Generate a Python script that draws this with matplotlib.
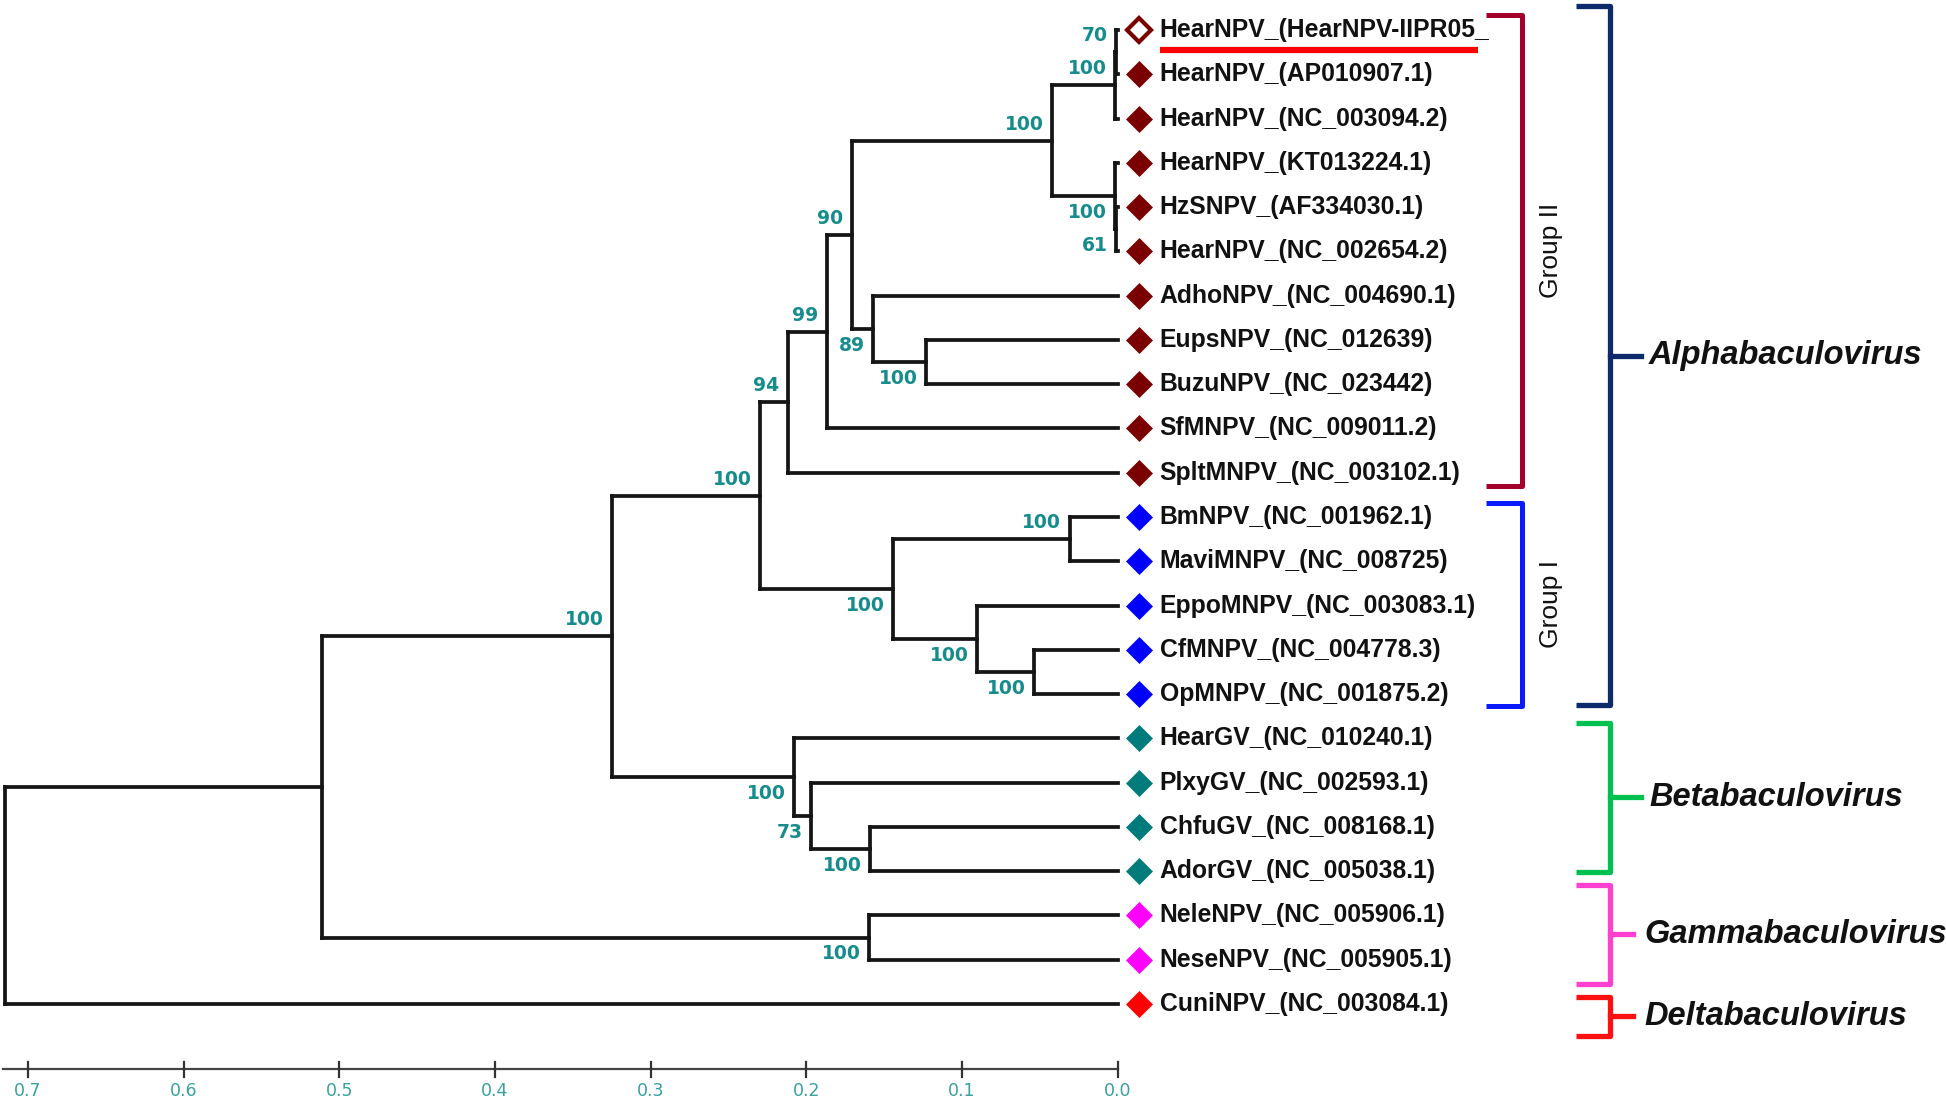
"""Baculovirus phylogeny (MEGA-style UPGMA tree) with bootstrap values and genus brackets."""

import matplotlib

matplotlib.use("Agg")
import matplotlib.pyplot as plt
from matplotlib.collections import LineCollection
from matplotlib.transforms import ScaledTranslation

# leaves, top to bottom
leaf_names = [
    "HearNPV_(HearNPV-IIPR05_",
    "HearNPV_(AP010907.1)",
    "HearNPV_(NC_003094.2)",
    "HearNPV_(KT013224.1)",
    "HzSNPV_(AF334030.1)",
    "HearNPV_(NC_002654.2)",
    "AdhoNPV_(NC_004690.1)",
    "EupsNPV_(NC_012639)",
    "BuzuNPV_(NC_023442)",
    "SfMNPV_(NC_009011.2)",
    "SpltMNPV_(NC_003102.1)",
    "BmNPV_(NC_001962.1)",
    "MaviMNPV_(NC_008725)",
    "EppoMNPV_(NC_003083.1)",
    "CfMNPV_(NC_004778.3)",
    "OpMNPV_(NC_001875.2)",
    "HearGV_(NC_010240.1)",
    "PlxyGV_(NC_002593.1)",
    "ChfuGV_(NC_008168.1)",
    "AdorGV_(NC_005038.1)",
    "NeleNPV_(NC_005906.1)",
    "NeseNPV_(NC_005905.1)",
    "CuniNPV_(NC_003084.1)",
]
leaf_groups = ["II"] * 11 + ["I"] * 5 + ["beta"] * 4 + ["gamma"] * 2 + ["delta"]
query_leaf = 0

# internal nodes: children (int = leaf index), height (distance from tips), bootstrap
node_ids = ["ipr", "hear1", "hzs", "hear2", "hear", "eups", "adho", "n90", "n99", "grp2",
            "bm", "cf", "eppo", "grp1", "alpha", "chfu", "plxy", "beta", "ab", "gamma",
            "abg", "root"]
node_children = [(0, 1), ("ipr", 2), (4, 5), (3, "hzs"), ("hear1", "hear2"), (7, 8),
                 (6, "eups"), ("hear", "adho"), ("n90", 9), ("n99", 10),
                 (11, 12), (14, 15), (13, "cf"), ("bm", "eppo"), ("grp2", "grp1"),
                 (18, 19), (17, "chfu"), (16, "plxy"), ("alpha", "beta"), (20, 21),
                 ("ab", "gamma"), ("abg", 22)]
node_height = [0.001, 0.002, 0.001, 0.002, 0.042, 0.123, 0.157, 0.171, 0.187, 0.212,
               0.031, 0.054, 0.0906, 0.1445, 0.230, 0.159, 0.197, 0.208, 0.325, 0.160,
               0.511, 0.715]
node_support = [70, 100, 61, 100, 100, 100, 89, 90, 99, 94,
                100, 100, 100, 100, 100, 100, 73, 100, 100, 100,
                None, None]
# where MEGA put each bootstrap label relative to the node's branch
support_side = ["above", "above", "below", "below", "above", "below", "below", "above",
                "above", "above", "above", "below", "below", "below", "above", "below",
                "below", "below", "above", "below", None, None]

scale_ticks = [0.7, 0.6, 0.5, 0.4, 0.3, 0.2, 0.1, 0.0]

subgroup_names = ["Group II", "Group I"]
subgroup_leaves = [(0, 10), (11, 15)]
genus_names = ["Alphabaculovirus", "Betabaculovirus", "Gammabaculovirus", "Deltabaculovirus"]
genus_leaves = [(0, 15), (16, 19), (20, 21), (22, 22)]

# styling
group_colors = {"II": "#7a0000", "I": "#0000ff", "beta": "#007b7b",
                "gamma": "#ff00ff", "delta": "#ff0000"}
subgroup_colors = ["#a3002b", "#0a1bff"]
subgroup_pads = [(0.34, 0.30), (0.32, 0.27)]
genus_colors = ["#0d2a6b", "#00c050", "#ff40d0", "#ff1010"]
genus_pads = [(0.54, 0.25), (0.35, 0.02), (0.69, 0.55), (0.16, 0.72)]
support_color = "#178c8c"
tick_color = "#3aa0a0"
W, H = 1946, 1100


def fx(px):
    """Horizontal pixel position as axes fraction."""
    return px / W


fig = plt.figure(figsize=(W / 100, H / 100), dpi=100)
ax = fig.add_axes([0, 0, 1, 1])
ax.set_xlim(0.718, -0.532)
ax.set_ylim(24.17, -0.678)
ax.axis("off")

# node positions
pos = {i: (0.0, float(i)) for i in range(len(leaf_names))}
for nid, kids, h in zip(node_ids, node_children, node_height):
    ys = [pos[k][1] for k in kids]
    pos[nid] = (h, sum(ys) / len(ys))

segs = []
for nid, kids in zip(node_ids, node_children):
    x, _ = pos[nid]
    ys = [pos[k][1] for k in kids]
    segs.append([(x, min(ys)), (x, max(ys))])
    for k in kids:
        segs.append([(x, pos[k][1]), pos[k]])
ax.add_collection(LineCollection(segs, colors="#151515", linewidths=2.7,
                                 capstyle="projecting", joinstyle="miter"))

# bootstrap labels
for nid, sup, side in zip(node_ids, node_support, support_side):
    if sup is None:
        continue
    x, y = pos[nid]
    dy = 5 if side == "above" else -5
    ax.annotate(str(sup), (x, y), xytext=(-6, dy), textcoords="offset points",
                ha="right", va="bottom" if side == "above" else "top",
                fontsize=13.5, fontweight="bold", color=support_color,
                family="DejaVu Sans")

# leaf markers and names
mark_tr = ax.transData + ScaledTranslation(21 / 100, 0, fig.dpi_scale_trans)
text_tr = ax.transData + ScaledTranslation(42 / 100, 0, fig.dpi_scale_trans)
texts = []
for i, (name, grp) in enumerate(zip(leaf_names, leaf_groups)):
    col = group_colors[grp]
    if i == query_leaf:
        ax.plot(0, i, marker="D", ms=12, mfc="white", mec=col, mew=3, transform=mark_tr)
    else:
        ax.plot(0, i, marker="D", ms=13.5, mfc=col, mec=col, mew=0.5, transform=mark_tr)
    t = ax.text(0, i, name, transform=text_tr, ha="left", va="center",
                fontsize=17.8, fontweight="bold", color="#111111",
                family=["Liberation Sans", "DejaVu Sans"])
    texts.append(t)

# scale bar
axis_y = 23.47
ax.plot([0.716, 0.0], [axis_y, axis_y], color="#444444", lw=1.6)
for t in scale_ticks:
    ax.plot([t, t], [axis_y - 0.16, axis_y + 0.18], color="#333333", lw=1.6)
    ax.text(t, axis_y + 0.3, f"{t:.1f}", ha="center", va="top", fontsize=12.5,
            color=tick_color, family="DejaVu Sans")

yt = ax.get_yaxis_transform()


def bracket(y0, y1, x_arm, x_spine, x_tip, color, lw):
    ym = (y0 + y1) / 2
    ax.plot([fx(x_arm), fx(x_spine), fx(x_spine), fx(x_arm)], [y0, y0, y1, y1],
            color=color, lw=lw, transform=yt, solid_joinstyle="round",
            solid_capstyle="butt")
    if x_tip is not None:
        ax.plot([fx(x_spine), fx(x_tip)], [ym, ym], color=color, lw=lw, transform=yt)
    return ym


# red underline under the query sequence (drawn before the brackets so they sit on top)
fig.canvas.draw()
bb = texts[query_leaf].get_window_extent()
x0 = ax.transData.inverted().transform((bb.x0, 0))[0]
x1 = ax.transData.inverted().transform((bb.x1 - 12, 0))[0]
ax.plot([x0, x1], [query_leaf + 0.46, query_leaf + 0.46], color="#ff0000",
        lw=4.5, solid_capstyle="butt")

for name, (a, b), (pt, pb), col in zip(subgroup_names, subgroup_leaves, subgroup_pads,
                                        subgroup_colors):
    ym = bracket(a - pt, b + pb, 1486, 1522, None, col, 3.6)
    ax.text(fx(1551), ym, name, transform=yt, rotation=90, ha="center", va="center",
            fontsize=19, color="#111111",
            family=["Liberation Sans Narrow", "Liberation Sans", "DejaVu Sans"])

for k, (name, (a, b), (pt, pb), col) in enumerate(zip(genus_names, genus_leaves,
                                                       genus_pads, genus_colors)):
    tip = 1641 if k < 2 else 1633
    ym = bracket(a - pt, b + pb, 1576, 1610, tip, col, 3.8)
    ax.text(fx(1649 if k < 2 else 1644), ym, name, transform=yt, ha="left",
            va="center", fontsize=23.5, fontweight="bold", fontstyle="italic",
            color="#111111", family=["Liberation Sans", "DejaVu Sans"])

fig.savefig("out.png", dpi=100, facecolor="white")
